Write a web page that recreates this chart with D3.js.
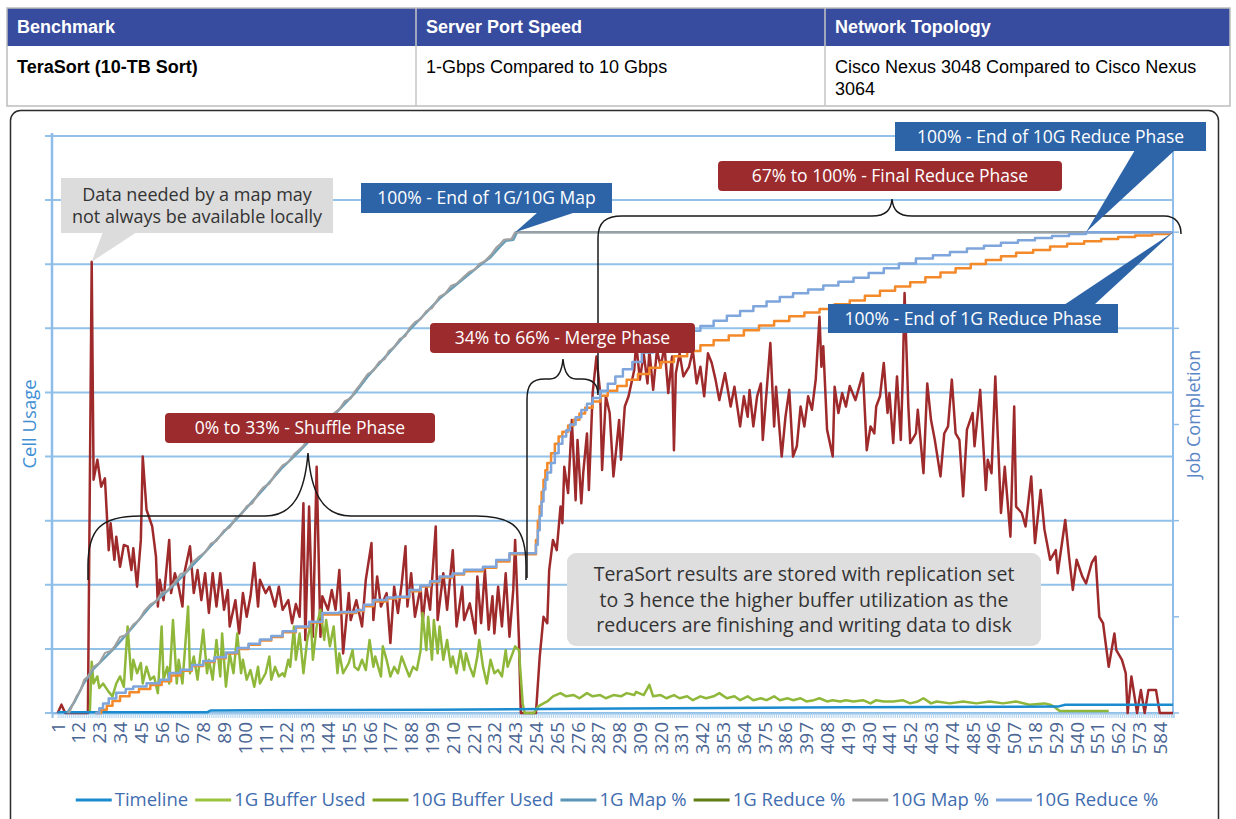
<!DOCTYPE html>
<html>
<head>
<meta charset="utf-8">
<script src="https://cdn.jsdelivr.net/npm/d3@7"></script>
<style>
body { margin: 0; background: #fff; }
svg { display: block; }
</style>
</head>
<body>
<svg id="chart" width="1236" height="819"></svg>
<script>
// ---- table ----
var tableHead = ["Benchmark", "Server Port Speed", "Network Topology"];
var tableRow = [["TeraSort (10-TB Sort)"], ["1-Gbps Compared to 10 Gbps"], ["Cisco Nexus 3048 Compared to Cisco Nexus", "3064"]];

// ---- chart data: [sample, value] ----
var xLabels = d3.range(1, 585, 11);

var timeline = [[1,1],[80,1],[82,4],[200,5],[300,7],[420,9],[530,10],[534,13],[591,13]];

var bufferRed = [[1,0],[3,13],[5,0],[17,0],[19,704],[20,364],[22,395],[24,353],[26,366],[28,254],[29,296],[31,239],[32,275],[34,228],[36,262],[38,260],[40,223],[41,257],[43,197],[45,270],[46,400],[48,317],[51,291],[53,244],[54,166],[55,208],[57,176],[60,270],[61,187],[63,218],[65,197],[67,166],[68,218],[71,260],[73,187],[75,223],[77,176],[79,218],[81,156],[83,218],[85,166],[87,218],[89,161],[91,192],[92,135],[95,176],[97,124],[99,187],[101,150],[103,182],[105,234],[107,166],[108,208],[111,187],[113,197],[116,166],[118,197],[120,161],[123,176],[125,140],[127,170],[129,150],[131,327],[132,114],[134,322],[136,119],[138,384],[140,119],[141,182],[144,161],[146,192],[148,161],[150,223],[152,93],[155,187],[156,145],[159,176],[162,135],[164,208],[167,265],[168,145],[170,213],[172,166],[175,187],[177,109],[179,197],[181,156],[183,202],[185,260],[186,166],[188,218],[190,150],[193,197],[194,140],[196,197],[198,161],[201,291],[202,145],[205,218],[207,161],[208,192],[210,254],[212,135],[215,197],[216,145],[219,171],[222,124],[223,213],[225,140],[227,223],[229,130],[231,182],[232,124],[234,197],[236,135],[238,218],[240,119],[242,192],[243,270],[245,114],[246,0],[254,0],[256,88],[258,150],[260,140],[261,223],[263,270],[265,254],[267,322],[268,296],[269,384],[271,343],[273,457],[275,332],[276,426],[278,327],[279,374],[281,436],[282,348],[284,499],[286,556],[288,499],[289,379],[291,494],[293,468],[295,369],[298,457],[299,395],[301,478],[303,494],[306,535],[307,577],[309,520],[311,561],[313,514],[314,566],[316,504],[318,566],[320,540],[322,572],[324,499],[326,556],[327,410],[328,530],[330,561],[332,525],[335,540],[337,566],[339,514],[341,540],[343,494],[345,561],[347,546],[349,520],[351,488],[354,530],[357,478],[359,509],[362,447],[364,494],[366,462],[367,504],[369,447],[371,494],[373,514],[374,426],[378,577],[380,447],[381,509],[384,400],[386,462],[388,504],[390,400],[392,416],[394,478],[396,447],[398,494],[400,473],[402,520],[404,618],[405,540],[406,572],[408,442],[411,400],[412,509],[414,468],[416,499],[418,478],[420,510],[423,488],[425,509],[427,530],[429,410],[431,447],[433,436],[434,478],[436,494],[438,546],[440,468],[441,499],[443,421],[445,525],[447,426],[448,520],[449,655],[451,478],[452,421],[455,436],[456,473],[459,374],[461,514],[463,457],[465,426],[468,369],[470,436],[472,447],[474,520],[476,436],[478,426],[480,338],[482,442],[485,468],[486,416],[489,504],[492,348],[493,395],[495,374],[497,525],[500,312],[502,384],[505,275],[507,478],[508,322],[511,312],[513,291],[516,369],[518,265],[521,348],[523,286],[526,239],[529,254],[530,218],[534,301],[536,244],[538,192],[540,239],[543,213],[545,202],[548,234],[550,244],[552,150],[554,140],[557,72],[560,124],[561,98],[564,83],[566,62],[567,0],[569,57],[572,0],[574,36],[576,0],[578,36],[582,36],[584,0],[591,0]];

var bufferGreen = [[18,0],[19,80],[20,46],[22,57],[23,39],[25,46],[28,33],[30,26],[32,46],[34,57],[36,41],[38,135],[40,52],[41,83],[43,62],[45,78],[46,46],[48,72],[50,52],[52,57],[54,31],[56,135],[57,52],[59,72],[60,46],[62,145],[64,46],[65,83],[67,46],[70,166],[71,62],[73,88],[75,52],[76,78],[78,130],[80,62],[81,83],[83,52],[85,114],[87,57],[88,124],[90,41],[92,93],[94,62],[96,124],[98,62],[99,83],[101,52],[103,67],[105,41],[107,72],[108,46],[111,62],[113,88],[114,52],[116,72],[118,57],[120,62],[121,57],[123,83],[124,72],[126,135],[127,83],[129,124],[131,62],[133,114],[135,140],[136,83],[138,135],[140,161],[142,114],[143,145],[145,104],[147,135],[149,62],[150,93],[152,62],[155,78],[157,98],[158,72],[160,67],[162,83],[164,67],[166,114],[168,72],[169,88],[172,57],[173,104],[175,83],[177,57],[179,72],[181,62],[183,88],[185,72],[187,57],[189,72],[191,67],[193,98],[194,156],[196,98],[197,150],[199,83],[200,145],[202,93],[203,135],[205,83],[207,114],[209,72],[210,88],[212,62],[214,98],[216,67],[217,93],[219,72],[221,57],[223,88],[224,114],[226,72],[228,46],[230,83],[232,62],[234,67],[236,57],[238,98],[239,72],[241,88],[243,104],[245,98],[247,15],[248,0],[253,0],[255,10],[258,15],[260,18],[263,26],[267,31],[270,26],[274,28],[277,23],[281,31],[284,26],[288,28],[291,23],[295,28],[299,26],[302,31],[306,28],[307,33],[311,28],[314,44],[316,26],[320,28],[323,23],[327,28],[330,23],[334,26],[337,20],[341,26],[344,23],[348,26],[351,31],[355,23],[359,26],[362,20],[366,26],[369,20],[373,23],[376,20],[380,26],[383,20],[387,23],[390,20],[394,23],[397,18],[401,20],[404,23],[408,18],[411,20],[415,18],[418,20],[422,18],[427,20],[431,15],[434,20],[438,18],[443,18],[448,20],[452,15],[456,18],[459,23],[463,15],[466,18],[473,15],[480,18],[487,15],[494,18],[501,15],[508,18],[515,13],[523,15],[526,13],[528,10],[531,3],[557,3]];

// job completion, percent
var map1G = [[6,0],[10,2.4],[15,6.3],[20,9.2],[31,13.5],[41,18],[50,22.2],[63,26.8],[76,32.2],[89,37.7],[95,40.1],[110,46.6],[120,51.1],[128,54.1],[147,61.9],[158,66.4],[165,70],[176,74.8],[187,79.6],[203,86.2],[216,90.4],[224,93],[230,94.8],[235,97],[238,98.2],[242,98.4],[244,100],[591,100]];
var map10G = [[7,0],[9,1.8],[11,3.5],[13,4.6],[15,6.9],[17,7.6],[20,9.6],[23,10.4],[26,12.5],[29,12.9],[31,13.8],[34,15.8],[37,16.2],[41,18.4],[44,19.3],[47,21.3],[50,22.6],[53,23.2],[56,25],[59,25.5],[63,27.2],[66,28.9],[69,29.3],[72,31.2],[76,32.6],[79,33.4],[82,35.2],[85,35.8],[89,38],[92,38.6],[95,40.5],[98,41.2],[101,43],[104,43.6],[107,45.6],[110,47],[113,47.7],[116,49.6],[120,51.5],[123,52.2],[126,53.8],[128,54.5],[131,55.6],[134,57.3],[137,57.9],[140,59.6],[144,61],[147,62.3],[150,63.2],[153,64.9],[156,65.4],[158,66.8],[161,68.3],[165,70.5],[168,71.2],[171,73],[174,73.6],[176,75.2],[179,76.1],[182,77.8],[185,78.4],[187,80],[190,81.3],[193,81.9],[196,83.6],[199,84.2],[203,86.6],[206,87.2],[209,88.8],[212,89.3],[216,90.8],[219,91.8],[222,92.3],[224,93.4],[227,94],[230,95.2],[233,96.8],[235,97.5],[237,98.4],[241,98.6],[243,100],[591,100]];

var reduce1G = [[21,0],[24,0.7],[27,1.5],[30,2.5],[34,3.5],[39,4.3],[44,5],[50,5.8],[56,6.6],[61,7.8],[66,8.8],[72,9.8],[78,10.6],[84,11.4],[90,12.4],[96,13.3],[102,14.2],[108,15.1],[114,15.8],[120,16.8],[127,17.8],[134,18.8],[141,20.5],[150,20.8],[159,21.2],[163,22.2],[168,23.2],[175,23.8],[180,24],[187,25.3],[193,26.3],[198,27.2],[203,28.2],[210,28.8],[216,29.5],[226,30.2],[233,31.5],[240,33],[254,36],[255,40],[256,43],[257,46],[258,48.5],[259,50.5],[260,52],[262,54],[264,56],[266,57.5],[268,58.5],[271,59.8],[274,61],[277,62.3],[280,63.5],[284,64.8],[288,66],[292,67],[297,68],[302,69.3],[308,70.5],[314,71.8],[320,73],[327,74.2],[334,75.3],[341,76.5],[348,77.5],[356,78.5],[364,79.6],[372,80.6],[380,81.5],[388,82.5],[396,83.3],[404,84],[412,85],[420,85.8],[428,86.8],[436,87.8],[444,88.7],[452,89.6],[460,90.6],[468,91.6],[476,92.5],[484,93.4],[492,94.2],[500,95],[508,95.7],[517,96.3],[526,97],[535,97.6],[544,98.1],[553,98.6],[562,99],[571,99.3],[580,99.6],[589,100],[591,100]];
var reduce10G = [[21,0],[23,1],[25,2],[28,3],[32,4.2],[37,5],[41,5.5],[48,6.2],[55,6.9],[60,8.3],[66,9],[72,10],[78,10.8],[84,11.6],[90,12.6],[96,13.5],[102,14.4],[108,15.3],[114,16],[120,17],[127,18],[134,19],[141,20.8],[150,21],[159,21.4],[163,22.5],[168,23.5],[175,24],[180,24.2],[187,25.6],[193,26.5],[198,27.4],[203,28.4],[210,29],[216,29.8],[226,30.4],[233,31.8],[240,33.2],[254,35],[255,38],[256,41],[257,44],[258,46.5],[259,48.5],[260,50],[262,52],[264,54],[266,56],[268,57.5],[270,58.8],[272,60],[275,61.5],[278,63],[281,64.3],[284,65.5],[288,67],[292,68.5],[296,70],[300,71.5],[305,73],[310,75],[316,76.3],[322,77.5],[328,78.5],[334,79.5],[341,80.5],[348,81.6],[355,82.6],[362,83.6],[369,84.6],[376,85.6],[383,86.5],[390,87.3],[398,88.1],[406,88.9],[414,89.7],[422,90.5],[430,91.5],[438,92.5],[446,93.5],[455,94.5],[464,95.2],[473,95.9],[482,96.6],[491,97.2],[500,97.8],[509,98.3],[518,98.8],[527,99.2],[536,99.6],[545,100],[591,100]];

var legendNames = ["Timeline", "1G Buffer Used", "10G Buffer Used", "1G Map %", "1G Reduce %", "10G Map %", "10G Reduce %"];
var legendColors = ["#1b8bcf", "#9cc23f", "#7fa21c", "#5b95b5", "#5f7d12", "#9a9a9a", "#7ea6dc"];

var svg = d3.select("#chart");

/* ========== table ========== */
var colX = [7, 416, 825, 1230];
var tbl = svg.append("g").attr("font-family", "'Liberation Sans', Arial, sans-serif").attr("font-size", 18);
tbl.append("rect").attr("x", 7).attr("y", 8).attr("width", 1223).attr("height", 38).attr("fill", "#374c9e");
tbl.append("rect").attr("x", 7).attr("y", 8).attr("width", 1223).attr("height", 98)
	.attr("fill", "none").attr("stroke", "#bdbdbd").attr("stroke-width", 1.5);
[416, 825].forEach(function(cx){
	tbl.append("line").attr("x1", cx).attr("x2", cx).attr("y1", 8).attr("y2", 106)
		.attr("stroke", "#c4c4c4").attr("stroke-width", 1.5);
});
tableHead.forEach(function(t, i){
	tbl.append("text").attr("x", colX[i] + 10).attr("y", 33)
		.attr("fill", "#fff").attr("font-weight", "bold").text(t);
});
tableRow.forEach(function(lines, i){
	lines.forEach(function(t, j){
		tbl.append("text").attr("x", colX[i] + 10).attr("y", 73 + j*22)
			.attr("fill", "#000").attr("font-weight", i == 0 ? "bold" : "normal").text(t);
	});
});

/* ========== frame ========== */
svg.append("rect").attr("x", 10.5).attr("y", 110.5).attr("width", 1208).attr("height", 730)
	.attr("rx", 10).attr("fill", "none").attr("stroke", "#2b2b2b").attr("stroke-width", 1.5);

/* ========== scales ========== */
var x = d3.scaleLinear().domain([-2, 591]).range([52, 1173]);
var yCell = d3.scaleLinear().domain([0, 900]).range([713, 136]);
var yPct = d3.scaleLinear().domain([0, 120]).range([713, 136]);

var plot = svg.append("g").attr("font-family", "'Open Sans', sans-serif");

// gridlines
plot.append("g").selectAll("line")
	.data(d3.range(0, 901, 100)).enter().append("line")
	.attr("x1", 45).attr("x2", x(591))
	.attr("y1", function(d){ return yCell(d); })
	.attr("y2", function(d){ return yCell(d); })
	.attr("stroke", "#92c1e9").attr("stroke-width", 2);

// left and right axis lines
plot.append("line").attr("x1", 52).attr("x2", 52).attr("y1", 133).attr("y2", 713)
	.attr("stroke", "#8dbde8").attr("stroke-width", 2.5);
plot.append("line").attr("x1", x(591)).attr("x2", x(591)).attr("y1", 136).attr("y2", 713)
	.attr("stroke", "#8dbde8").attr("stroke-width", 2);
plot.append("g").selectAll("line")
	.data(d3.range(0, 121, 20)).enter().append("line")
	.attr("x1", x(591)).attr("x2", x(591) + 6)
	.attr("y1", function(d){ return yPct(d); })
	.attr("y2", function(d){ return yPct(d); })
	.attr("stroke", "#8dbde8").attr("stroke-width", 1.5);

// bottom axis: dense ticks + labels
var xAxis = plot.append("g")
	.attr("transform", "translate(0,713)")
	.call(d3.axisBottom(x).tickValues(d3.range(1, 592)).tickSize(5).tickFormat(""));
xAxis.select(".domain").attr("stroke", "#8dbde8").attr("stroke-width", 2);
xAxis.selectAll(".tick line").attr("stroke", "#b3d4ef").attr("stroke-width", 1);

plot.append("g").selectAll("text")
	.data(xLabels).enter().append("text")
	.attr("transform", function(d){ return "translate(" + (x(d) + 7) + ",722) rotate(-90)"; })
	.attr("text-anchor", "end")
	.attr("font-size", 19)
	.attr("fill", "#4a6594")
	.text(function(d){ return d; });

// axis titles
plot.append("text").attr("transform", "translate(36,424) rotate(-90)")
	.attr("text-anchor", "middle").attr("font-size", 18.5).attr("fill", "#3f8fd4").text("Cell Usage");
plot.append("text").attr("transform", "translate(1200,414) rotate(-90)")
	.attr("text-anchor", "middle").attr("font-size", 18).attr("fill", "#5b86c6").text("Job Completion");

/* ========== series ========== */
var cellLine = d3.line().x(function(d){ return x(d[0]); }).y(function(d){ return yCell(d[1]); });
var pctLine = d3.line().x(function(d){ return x(d[0]); }).y(function(d){ return yPct(d[1]); });
var pctStep = d3.line().curve(d3.curveStepAfter).x(function(d){ return x(d[0]); }).y(function(d){ return yPct(d[1]); });

function drawPath(data, gen, color, w){
	plot.append("path").datum(data).attr("d", gen)
		.attr("fill", "none").attr("stroke", color).attr("stroke-width", w)
		.attr("stroke-linejoin", "round");
}

drawPath(bufferRed, cellLine, "#9e2a2b", 2.5);
drawPath(bufferGreen, cellLine, "#8fb83b", 2.5);
drawPath(timeline, cellLine, "#1b8bcf", 2.5);
drawPath(map1G, pctLine, "#6b9fb8", 2.5);
drawPath(map10G, pctLine, "#a0a0a0", 2);
drawPath(reduce1G, pctStep, "#f4892a", 2.5);
drawPath(reduce10G, pctStep, "#7ea6dc", 2.5);

/* ========== annotations ========== */
var ann = svg.append("g").attr("font-family", "'Open Sans', sans-serif");

function callout(bx, by, bw, bh, fill, rx, lines, size, color, lineGap, pointer){
	if (pointer){
		ann.append("polygon").attr("points", pointer.map(function(p){ return p.join(","); }).join(" "))
			.attr("fill", fill);
	}
	ann.append("rect").attr("x", bx).attr("y", by).attr("width", bw).attr("height", bh)
		.attr("rx", rx).attr("fill", fill);
	var n = lines.length;
	lines.forEach(function(t, i){
		ann.append("text")
			.attr("x", bx + bw/2)
			.attr("y", by + bh/2 + (i - (n-1)/2)*lineGap)
			.attr("dy", "0.36em")
			.attr("text-anchor", "middle")
			.attr("font-size", size)
			.attr("fill", color)
			.text(t);
	});
}

function brace(d){
	ann.append("path").attr("d", d).attr("fill", "none").attr("stroke", "#1a1a1a").attr("stroke-width", 1.5);
}

// braces
brace("M88,580 L88,566 C88,530 100,516 140,516 L265,516 C295,516 305,490 308,453 C311,490 321,516 351,516 L476,516 C516,516 526,530 526,566 L526,580");
brace("M527,578 L527,400 C527,384 532,379 545,379 L550,379 C558,379 562,370 563,359 C564,370 568,379 576,379 L582,379 C594,379 598,386 598,395");
brace("M598,393 L598,238 C598,222 606,216 622,216 L872,216 C886,216 891,210 892,199 C893,210 898,216 912,216 L1164,216 C1176,216 1181,224 1181,234");

// gray callouts
callout(61, 178, 272, 55, "#dcdcdc", 0, ["Data needed by a map may", "not always be available locally"], 18, "#333", 22,
	[[103,232],[137,232],[x(19), yCell(704)]]);
callout(567, 553, 474, 93, "#dedede", 9, ["TeraSort results are stored with replication set", "to 3 hence the higher buffer utilization as the", "reducers are finishing and writing data to disk"], 19.5, "#333", 25.5, null);

// blue callouts
callout(361, 183, 251, 30, "#2d64a8", 0, ["100% - End of 1G/10G Map"], 17.5, "#fff", 0,
	[[538,212],[576,212],[x(243), yPct(100)]]);
callout(895, 122, 311, 29, "#2d64a8", 0, ["100% - End of 10G Reduce Phase"], 17.5, "#fff", 0,
	[[1135,150],[1175,150],[x(545), yPct(100)]]);
callout(828, 304, 290, 29, "#2d64a8", 0, ["100% - End of 1G Reduce Phase"], 17.5, "#fff", 0,
	[[1064,305],[1094,305],[x(591), yPct(100)]]);

// red phase labels
callout(718, 161, 344, 30, "#9c2b2e", 4, ["67% to 100% - Final Reduce Phase"], 17.5, "#fff", 0, null);
callout(430, 323, 265, 30, "#9c2b2e", 4, ["34% to 66% - Merge Phase"], 17.5, "#fff", 0, null);
callout(165, 413, 270, 30, "#9c2b2e", 4, ["0% to 33% - Shuffle Phase"], 17.5, "#fff", 0, null);

/* ========== legend ========== */
var legend = svg.append("g").attr("font-family", "'Open Sans', sans-serif").attr("font-size", 18.5);
var lx = 0;
legendNames.forEach(function(name, i){
	var g = legend.append("g");
	g.append("line").attr("x1", 0).attr("x2", 36).attr("y1", 0).attr("y2", 0)
		.attr("stroke", legendColors[i]).attr("stroke-width", 3);
	var t = g.append("text").attr("x", 39).attr("dy", "0.35em").attr("fill", "#3f6db0").text(name);
	var w = 39 + t.node().getComputedTextLength();
	g.attr("transform", "translate(" + lx + ",0)");
	lx += w + 7;
});
legend.attr("transform", "translate(" + (617 - (lx - 7)/2) + ",800)");
</script>
</body>
</html>
